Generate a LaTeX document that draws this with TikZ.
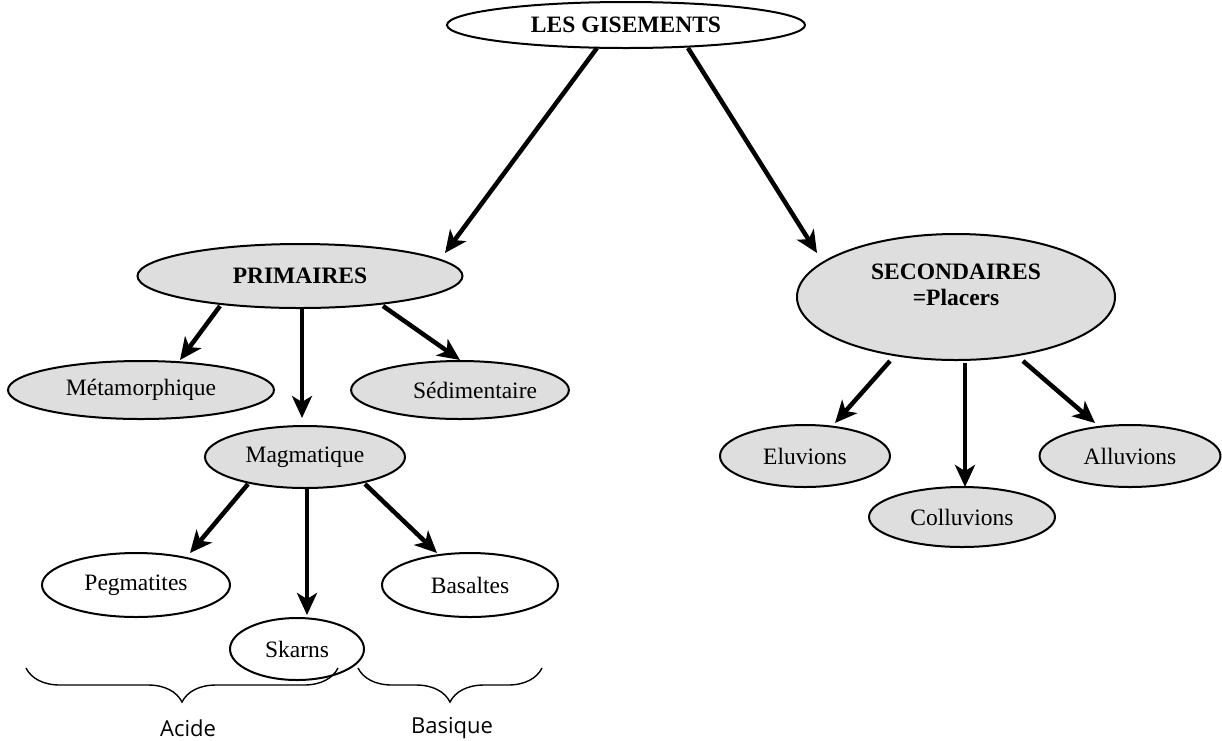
\documentclass[tikz,border=0pt]{standalone}
\usepackage{fontspec}
\setmainfont{Liberation Serif}
\newfontfamily\groupefont{Open Sans}
\usetikzlibrary{arrows.meta,positioning,calc,decorations.pathreplacing,shapes.geometric}

\begin{document}
\begin{tikzpicture}[
    x=1pt, y=-1pt,
    ell/.style={ellipse, draw=black, line width=2pt, inner sep=0pt, align=center, font=\fontsize{23.5}{26}\selectfont},
    gris/.style={ell, fill=black!13},
    blanc/.style={ell, fill=white},
    titre/.style={font=\bfseries\fontsize{23.5}{26}\selectfont},
    fleche/.style={-{Stealth[length=22pt,width=20pt,inset=6pt]}, line width=4.5pt},
    accolade/.style={decorate, decoration={brace, mirror, amplitude=34pt}, line width=1.4pt},
    groupe/.style={font=\groupefont\fontsize{22}{25}\selectfont}
]
\useasboundingbox (0,0) rectangle (1222,740);

% racine
\node[blanc, titre, minimum width=358pt, minimum height=46pt] (gis) at (626,25) {LES GISEMENTS};

% deux familles
\node[gris, titre, minimum width=325pt, minimum height=64pt] (prim) at (300,276) {PRIMAIRES};
\node[gris, titre, minimum width=318pt, minimum height=126pt] (sec) at (956,297) {SECONDAIRES\\=Placers\\[-10pt]\strut};

% gisements primaires
\node[gris, minimum width=266pt, minimum height=58pt] (meta) at (141,390) {M\'etamorphique};
\node[gris, minimum width=180pt, minimum height=58pt] (sedi) at (460,390) {\hspace*{30pt}S\'edimentaire};
\node[gris, minimum width=200pt, minimum height=62pt] (magma) at (305,457) {Magmatique};

% roches magmatiques
\node[blanc, minimum width=188pt, minimum height=64pt] (peg) at (136,585) {Pegmatites};
\node[blanc, minimum width=134pt, minimum height=62pt] (skarns) at (297,649) {Skarns};
\node[blanc, minimum width=176pt, minimum height=64pt] (basal) at (470,585) {Basaltes};

% placers
\node[gris, minimum width=170pt, minimum height=62pt] (eluv) at (805,456) {Eluvions};
\node[gris, minimum width=186pt, minimum height=60pt] (coll) at (962,517) {Colluvions};
\node[gris, minimum width=181pt, minimum height=62pt] (allu) at (1130,456) {Alluvions};

% fleches
\draw[fleche] ($(gis)+(-29,23)$) -- ($(prim)+(145,-23)$);
\draw[fleche] ($(gis)+(62,23)$) -- ($(sec)+(-139,-44)$);
\draw[fleche] ($(prim)+(-80,30)$) -- ($(meta)+(39,-30)$);
\draw[fleche] ($(prim)+(2,33)$) -- ($(magma)+(-3,-39)$);
\draw[fleche] ($(prim)+(83,30)$) -- ($(sedi)+(0,-30)$);
\draw[fleche] ($(magma)+(-57,27)$) -- ($(peg)+(54,-32)$);
\draw[fleche] ($(magma)+(2,32)$) -- ($(skarns)+(10,-34)$);
\draw[fleche] ($(magma)+(60,27)$) -- ($(basal)+(-33,-32)$);
\draw[fleche] ($(sec)+(-66,64)$) -- ($(eluv)+(30,-33)$);
\draw[fleche] ($(sec)+(9,66)$) -- ($(coll)+(3,-30)$);
\draw[fleche] ($(sec)+(67,64)$) -- ($(allu)+(-35,-33)$);

% acide / basique
\draw[accolade] (26,668) -- (338,668);
\draw[accolade] (358,668) -- (542,668);
\node[groupe] (acide) at (188,728) {Acide};
\node[groupe] (basique) at (452,728) {Basique};

\end{tikzpicture}
\end{document}
